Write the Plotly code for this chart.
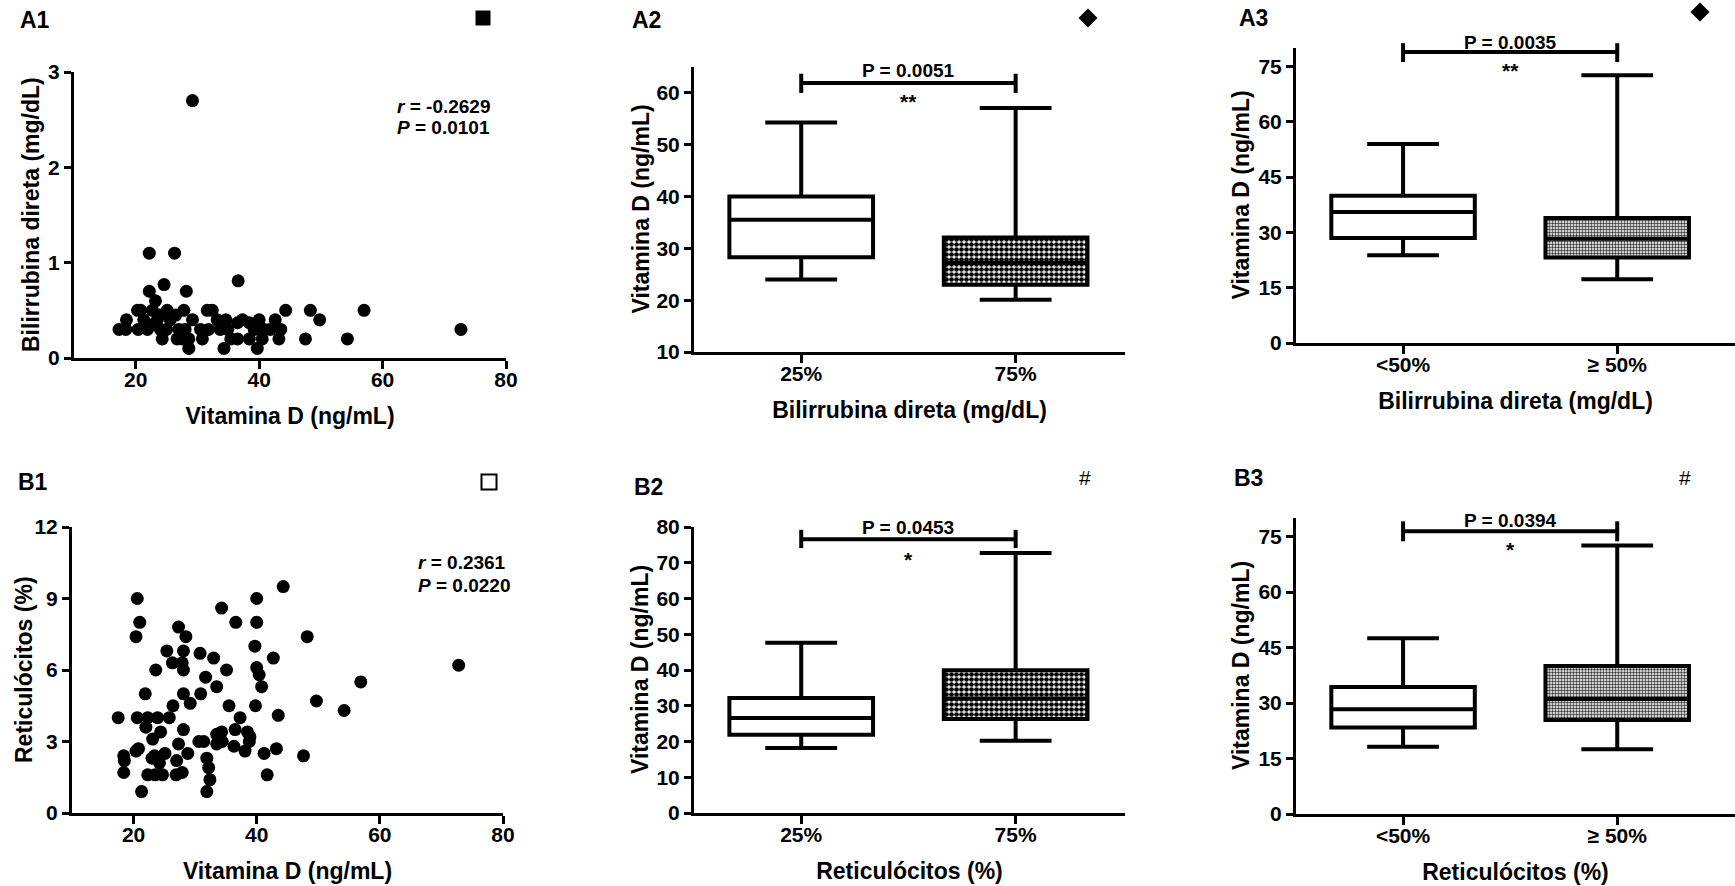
import plotly.graph_objects as go

W, H = 1735, 886
FONT = "Liberation Sans, Arial, sans-serif"

# ---------------- data ----------------
a1_vitd = [29.2, 22.2, 26.3, 24.6, 36.6, 22.2, 28.2, 23.2, 44.3, 48.3, 57.0, 49.8, 54.3, 47.5, 72.7,
           17.3, 18.4, 18.5, 20.3, 20.8, 20.4, 21.3, 21.9, 22.7, 23.5, 24.3, 24.0, 25.1, 25.6, 26.5,
           26.7, 27.5, 27.8, 28.0, 28.6, 29.2, 28.6, 30.8, 30.5, 31.6, 32.4, 31.8, 33.2, 33.7, 34.6,
           34.3, 34.9, 35.4, 36.5, 36.5, 37.3, 38.4, 38.4, 39.2, 40.0, 39.7, 40.5, 40.8, 41.8, 42.6,
           43.5, 43.2, 22.6, 25.0, 27.0, 23.9]
a1_bili = [2.7, 1.1, 1.1, 0.77, 0.81, 0.7, 0.7, 0.6, 0.5, 0.5, 0.5, 0.4, 0.2, 0.2, 0.3,
           0.3, 0.3, 0.4, 0.5, 0.5, 0.3, 0.4, 0.3, 0.5, 0.4, 0.2, 0.3, 0.5, 0.4, 0.45,
           0.2, 0.2, 0.5, 0.3, 0.1, 0.4, 0.2, 0.2, 0.3, 0.5, 0.5, 0.3, 0.4, 0.3, 0.4,
           0.1, 0.3, 0.2, 0.2, 0.37, 0.4, 0.37, 0.2, 0.3, 0.4, 0.1, 0.2, 0.3, 0.3, 0.4,
           0.3, 0.2, 0.35, 0.3, 0.3, 0.45]

b1_vitd = [17.5, 18.4, 18.5, 18.4, 20.4, 20.8, 20.6, 21.0, 20.4, 20.6, 21.3, 21.9, 22.3, 22.0, 22.3,
           23.1, 23.6, 23.4, 23.0, 23.5, 23.9, 24.4, 24.2, 24.7, 25.1, 25.8, 25.4, 26.3, 26.4, 26.9,
           27.0, 27.3, 27.3, 27.9, 28.1, 28.1, 28.1, 28.1, 27.9, 28.5, 28.8, 29.2, 30.8, 30.9, 30.6,
           31.4, 31.7, 31.9, 32.2, 32.4, 31.9, 33.0, 33.5, 33.5, 33.5, 34.3, 34.3, 34.4, 35.1, 35.5,
           36.3, 36.5, 36.6, 37.3, 38.1, 38.5, 38.8, 38.9, 39.7, 40.0, 40.0, 40.0, 40.4, 40.8, 39.8,
           41.2, 41.7, 42.7, 43.2, 43.5, 44.3, 47.6, 48.2, 49.7, 54.2, 56.9, 72.8]
b1_retic = [4.0, 2.4, 2.2, 1.7, 2.6, 2.7, 9.0, 8.0, 7.4, 4.0, 0.9, 5.0, 4.0, 3.6, 1.6,
            3.1, 6.0, 2.4, 2.3, 1.6, 4.0, 3.4, 2.1, 1.6, 2.5, 4.0, 6.8, 6.3, 4.5, 1.6,
            2.2, 2.9, 7.8, 6.3, 6.8, 6.0, 5.0, 3.5, 1.7, 7.4, 2.5, 4.6, 6.7, 5.0, 3.0,
            3.0, 5.7, 2.3, 1.9, 1.4, 0.9, 6.5, 5.3, 3.3, 2.9, 8.6, 3.4, 3.0, 6.0, 4.5,
            2.8, 3.5, 8.0, 4.0, 2.6, 3.4, 3.0, 3.2, 7.0, 9.0, 8.0, 6.1, 5.8, 5.3, 4.5,
            2.5, 1.6, 6.5, 2.7, 4.1, 9.5, 2.4, 7.4, 4.7, 4.3, 5.5, 6.2]

quartile_cats = ["25%", "75%"]
half_cats = ["<50%", "\u2265 50%"]

# box statistics: [lower whisker, Q1, median, Q3, upper whisker]
a2_low = [24.0, 20.1]; a2_q1 = [28.3, 23.0]; a2_med = [35.5, 27.2]; a2_q3 = [40.0, 32.1]; a2_high = [54.3, 57.1]
a3_low = [23.8, 17.3]; a3_q1 = [28.5, 23.2]; a3_med = [35.5, 28.3]; a3_q3 = [39.9, 33.9]; a3_high = [54.0, 72.6]
b2_low = [18.2, 20.2]; b2_q1 = [21.9, 26.3]; b2_med = [26.6, 32.0]; b2_q3 = [32.2, 39.9]; b2_high = [47.6, 72.7]
b3_low = [18.2, 17.5]; b3_q1 = [23.4, 25.4]; b3_med = [28.3, 31.1]; b3_q3 = [34.3, 40.0]; b3_high = [47.5, 72.6]

p_a2, p_a3, p_b2, p_b3 = "P = 0.0051", "P = 0.0035", "P = 0.0453", "P = 0.0394"
star_a2, star_a3, star_b2, star_b3 = "**", "**", "*", "*"

# ---------------- helpers ----------------
def px(x):
    return x / W

def py(y):
    return 1 - y / H

fig = go.Figure()

axis_common = dict(showline=True, linecolor="black", linewidth=3, showgrid=False, zeroline=False,
                   automargin=False, mirror=False,
                   ticks="outside", tickwidth=3, tickcolor="black", ticklen=7,
                   tickfont=dict(family=FONT, size=21, color="black", weight="bold"),
                   title_font=dict(family=FONT, size=23, color="black", weight="bold"))

layout = dict(template="none", width=W, height=H, autosize=False,
              margin=dict(l=0, r=0, t=0, b=0, pad=0, autoexpand=False), plot_bgcolor="white",
              paper_bgcolor="white", showlegend=False, boxmode="overlay", barmode="overlay")

panels = {}
annotations = []
shapes = []

def add_axes(n, xdom, ydom, xrange, yrange, xtitle, ytitle, ytitle_px, ytickvals, xtickvals,
             xticktext=None, xstand=18):
    xa = "xaxis" if n == 1 else f"xaxis{n}"
    ya = "yaxis" if n == 1 else f"yaxis{n}"
    xr = "x" if n == 1 else f"x{n}"
    yr = "y" if n == 1 else f"y{n}"
    xd = dict(axis_common, domain=xdom, range=xrange, anchor=yr, tickvals=xtickvals,
              title=dict(text=xtitle, standoff=xstand), ticklen=8, ticklabelstandoff=-7)
    if xticktext is not None:
        xd["ticktext"] = xticktext
    yd = dict(axis_common, domain=ydom, range=yrange, anchor=xr, tickvals=ytickvals)
    layout[xa] = xd
    layout[ya] = yd
    panels[n] = (xr, yr, xrange, yrange)
    # y-axis title placed as rotated text beside the axis
    annotations.append(dict(xref="paper", yref=yr + " domain", x=px(ytitle_px), y=0.5,
                            xanchor="center", yanchor="middle", textangle=-90, showarrow=False,
                            text=ytitle, font=dict(family=FONT, size=23, color="black", weight="bold")))

# A1
add_axes(1, [px(74), px(506)], [py(358), py(72)], [10, 80], [0, 3],
         "Vitamina D (ng/mL)", "Bilirrubina direta (mg/dL)", 31, [0, 1, 2, 3], [20, 40, 60, 80])
# A2
add_axes(2, [px(694), px(1125)], [py(352), py(67)], [-0.5, 1.51], [10, 65],
         "Bilirrubina direta (mg/dL)", "Vitamina D (ng/mL)", 640, [10, 20, 30, 40, 50, 60], [0, 1], quartile_cats)
# A3
add_axes(3, [px(1296), 1.0], [py(343), py(48)], [-0.5, 1.55], [0, 80],
         "Bilirrubina direta (mg/dL)", "Vitamina D (ng/mL)", 1240, [0, 15, 30, 45, 60, 75], [0, 1], half_cats)
# B1
add_axes(4, [px(72), px(503)], [py(813), py(527)], [10, 80], [0, 12],
         "Vitamina D (ng/mL)", "Reticulócitos (%)", 24, [0, 3, 6, 9, 12], [20, 40, 60, 80])
# B2
add_axes(5, [px(694), px(1125)], [py(813), py(527)], [-0.5, 1.51], [0, 80],
         "Reticulócitos (%)", "Vitamina D (ng/mL)", 640, [0, 10, 20, 30, 40, 50, 60, 70, 80], [0, 1], quartile_cats)
# B3
add_axes(6, [px(1296), 1.0], [py(814), py(518)], [-0.5, 1.55], [0, 80],
         "Reticulócitos (%)", "Vitamina D (ng/mL)", 1241, [0, 15, 30, 45, 60, 75], [0, 1], half_cats)

# scatter panels
fig.add_trace(go.Scatter(x=a1_vitd, y=a1_bili, mode="markers", xaxis="x", yaxis="y",
                         marker=dict(color="black", size=13, line=dict(width=0)), cliponaxis=False))
fig.add_trace(go.Scatter(x=b1_vitd, y=b1_retic, mode="markers", xaxis="x4", yaxis="y4",
                         marker=dict(color="black", size=13, line=dict(width=0)), cliponaxis=False))

BOXW = 0.67

def add_box(n, low, q1, med, q3, high, pattern):
    xr, yr = panels[n][0], panels[n][1]
    # patterned fill of the second box
    fig.add_trace(go.Bar(x=[1], y=[q3[1] - q1[1]], base=[q1[1]], width=BOXW, xaxis=xr, yaxis=yr,
                         marker=dict(color="white", line=dict(width=0), pattern=pattern)))
    fig.add_trace(go.Box(x=[0, 1], q1=q1, median=med, q3=q3, lowerfence=low, upperfence=high,
                         xaxis=xr, yaxis=yr, width=BOXW, whiskerwidth=0.5,
                         line=dict(color="black", width=4), fillcolor="rgba(0,0,0,0)",
                         boxpoints=False))

dark_pat = dict(shape=".", fgcolor="black", bgcolor="white", size=5, solidity=0.7)
light_pat = dict(shape=".", fgcolor="#333333", bgcolor="white", size=3, solidity=0.5)

add_box(2, a2_low, a2_q1, a2_med, a2_q3, a2_high, dark_pat)
add_box(3, a3_low, a3_q1, a3_med, a3_q3, a3_high, light_pat)
add_box(5, b2_low, b2_q1, b2_med, b2_q3, b2_high, dark_pat)
add_box(6, b3_low, b3_q1, b3_med, b3_q3, b3_high, light_pat)

def bracket(n, yline, ylo, yhi, ptext, ytext, stars, ystars):
    xr, yr, xrange, yrange = panels[n]
    def fx(v):
        return (v - xrange[0]) / (xrange[1] - xrange[0])
    def fy(v):
        return (v - yrange[0]) / (yrange[1] - yrange[0])
    xref, yref = xr + " domain", yr + " domain"
    ln = dict(color="black", width=4)
    shapes.append(dict(type="line", xref=xref, yref=yref, x0=fx(0), x1=fx(1), y0=fy(yline), y1=fy(yline), line=ln))
    shapes.append(dict(type="line", xref=xref, yref=yref, x0=fx(0), x1=fx(0), y0=fy(ylo), y1=fy(yhi), line=ln))
    shapes.append(dict(type="line", xref=xref, yref=yref, x0=fx(1), x1=fx(1), y0=fy(ylo), y1=fy(yhi), line=ln))
    annotations.append(dict(xref=xref, yref=yref, x=fx(0.5), y=fy(ytext), text=ptext, showarrow=False,
                            xanchor="center", yanchor="middle",
                            font=dict(family=FONT, size=19, color="black", weight="bold")))
    annotations.append(dict(xref=xref, yref=yref, x=fx(0.5), y=fy(ystars), text=stars, showarrow=False,
                            xanchor="center", yanchor="middle",
                            font=dict(family=FONT, size=21, color="black", weight="bold")))

bracket(2, 61.9, 60.0, 63.7, p_a2, 64.4, star_a2, 58.3)
bracket(3, 78.9, 76.2, 81.3, p_a3, 81.6, star_a3, 74.0)
bracket(5, 76.6, 74.1, 79.2, p_b2, 80.0, star_b2, 70.8)
bracket(6, 76.4, 73.7, 79.1, p_b3, 79.3, star_b3, 71.5)

# correlation text
for txt, x, y in [("<i>r</i> = -0.2629", 395, 107), ("<i>P</i> = 0.0101", 395, 128),
                  ("<i>r</i> = 0.2361", 416, 562), ("<i>P</i> = 0.0220", 416, 585)]:
    annotations.append(dict(xref="paper", yref="paper", x=px(x), y=py(y), xanchor="left", yanchor="middle",
                            align="left", showarrow=False, text=txt,
                            font=dict(family=FONT, size=19, color="black", weight="bold")))

# panel labels
for lab, x, y in [("A1", 18, 20), ("A2", 630, 20), ("A3", 1237, 18),
                  ("B1", 16, 482), ("B2", 632, 487), ("B3", 1232, 478)]:
    annotations.append(dict(xref="paper", yref="paper", x=px(x), y=py(y), xanchor="left", yanchor="middle",
                            text=lab, showarrow=False,
                            font=dict(family=FONT, size=23, color="black", weight="bold")))

# group symbols
for x, y in [(1085, 477), (1685, 478)]:
    annotations.append(dict(xref="paper", yref="paper", x=px(x), y=py(y), xanchor="center", yanchor="middle",
                            text="#", showarrow=False,
                            font=dict(family=FONT, size=21, color="black")))
s = 7.5
shapes.append(dict(type="rect", xref="paper", yref="paper", x0=px(483 - s), x1=px(483 + s),
                   y0=py(18 + s), y1=py(18 - s), fillcolor="black", line=dict(width=0)))
shapes.append(dict(type="rect", xref="paper", yref="paper", x0=px(489 - s), x1=px(489 + s),
                   y0=py(482 + s), y1=py(482 - s), fillcolor="white", line=dict(color="black", width=2)))
for cx, cy in [(1088, 18), (1700, 12)]:
    d = 9.5
    path = (f"M {px(cx)},{py(cy - d)} L {px(cx + d)},{py(cy)} L {px(cx)},{py(cy + d)} "
            f"L {px(cx - d)},{py(cy)} Z")
    shapes.append(dict(type="path", xref="paper", yref="paper", path=path, fillcolor="black",
                       line=dict(width=0)))

layout["shapes"] = shapes
layout["annotations"] = annotations
fig.update_layout(**layout)
fig.write_html("out.html", config={"displayModeBar": False},
               post_script="document.body.style.margin='0px';document.body.style.overflow='hidden';")
